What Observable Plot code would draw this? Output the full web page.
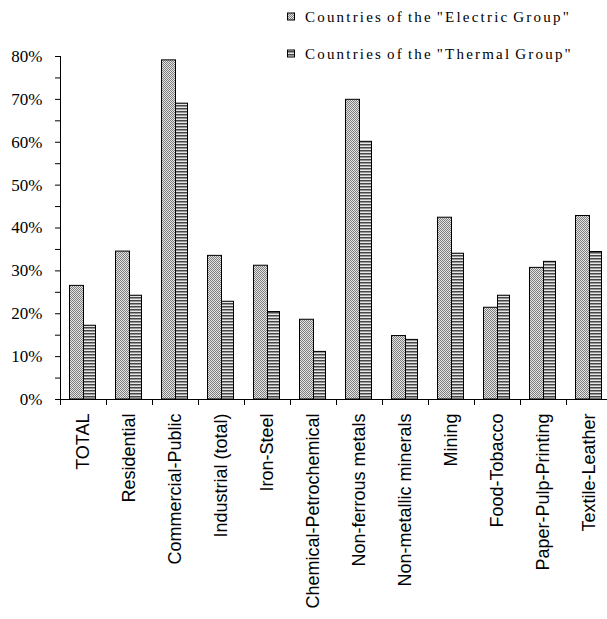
<!DOCTYPE html>
<html><head><meta charset="utf-8">
<script src="https://cdn.jsdelivr.net/npm/d3@7"></script>
<script src="https://cdn.jsdelivr.net/npm/@observablehq/plot@0.6"></script>
<style>
html,body{margin:0;padding:0;background:#fff;overflow:hidden;}
#wrap{position:relative;width:607px;height:619px;overflow:hidden;}
#legend{position:absolute;left:0;top:0;pointer-events:none;}
</style></head><body>
<svg width="0" height="0" style="position:absolute">
<defs>
<pattern id="pElec" width="2" height="2" patternUnits="userSpaceOnUse">
<rect width="2" height="2" fill="#e4e4e4"/><rect width="1" height="1" fill="#7e7e7e"/><rect x="1" y="1" width="1" height="1" fill="#7e7e7e"/>
</pattern>
<pattern id="pTherm" width="3" height="3" patternUnits="userSpaceOnUse">
<rect width="3" height="3" fill="#e6e6e6"/><rect width="3" height="1.5" fill="#474747"/>
</pattern>
</defs></svg>
<div id="wrap"></div>
<script>
const categories = ["TOTAL","Residential","Commercial-Public","Industrial (total)","Iron-Steel","Chemical-Petrochemical","Non-ferrous metals","Non-metallic minerals","Mining","Food-Tobacco","Paper-Pulp-Printing","Textile-Leather"];
const electric = [26.5,34.5,79.1,33.5,31.2,18.6,69.9,14.8,42.4,21.4,30.7,42.8];
const thermal  = [17.2,24.2,69.0,22.8,20.4,11.1,60.1,13.9,34.0,24.2,32.1,34.4];
const seriesNames = ['Countries of the "Electric Group"','Countries of the "Thermal Group"'];
const yTicks = [0,5,10,15,20,25,30,35,40,45,50,55,60,65,70,75,80];

const rows = categories.map((c,i)=>({category:c, electric:electric[i], thermal:thermal[i]}));

const chart = Plot.plot({
  width:607, height:619,
  marginLeft:60, marginRight:0, marginTop:56, marginBottom:220,
  style:{background:"white", color:"black", overflow:"hidden"},
  x:{domain:categories, range:[60,612], padding:0, axis:null},
  y:{domain:[0,80], range:[399,56], axis:null},
  marks:[
    Plot.barY(rows,{x:"category", y:"electric", fill:"url(#pElec)", stroke:"black", strokeWidth:1, insetLeft:9.5, insetRight:22.5}),
    Plot.barY(rows,{x:"category", y:"thermal", fill:"url(#pTherm)", stroke:"black", strokeWidth:1, insetLeft:23.5, insetRight:10.5}),
    Plot.ruleY([0],{stroke:"black"}),
    Plot.ruleX([categories[0]],{y1:0, y2:80, dx:-23, stroke:"black"}),
    Plot.axisY(yTicks,{tickSize:5, tickPadding:13, label:null, tickFormat:d => d % 10 === 0 ? d + "%" : "", fontFamily:"'Liberation Serif','Times New Roman',serif", fontSize:17}),
    Plot.axisX({tickSize:6, tickFormat:() => "", dx:-23, label:null}),
    Plot.axisX({tickSize:0, tickPadding:14, tickRotate:-90, label:null, fontFamily:"'Liberation Sans',Arial,sans-serif", fontSize:18, letterSpacing:0.3})
  ]
});
const wrap = document.getElementById("wrap");
wrap.appendChild(chart);

// legend
const leg = d3.select(wrap).append("svg").attr("id","legend").attr("width",607).attr("height",70);
const fills = ["url(#pElec)","url(#pTherm)"];
const baselines = [21.5,58.5];
seriesNames.forEach((name,i)=>{
  leg.append("rect").attr("x",287.5).attr("y",baselines[i]-8.5).attr("width",7).attr("height",7)
    .attr("fill",fills[i]).attr("stroke","black").attr("stroke-width",1);
  leg.append("text").attr("x",305).attr("y",baselines[i])
    .attr("font-family","'Liberation Serif','Times New Roman',serif")
    .attr("font-size",15).attr("letter-spacing",2.2).attr("word-spacing",-2)
    .attr("fill","black").text(name);
});
</script>
</body></html>
